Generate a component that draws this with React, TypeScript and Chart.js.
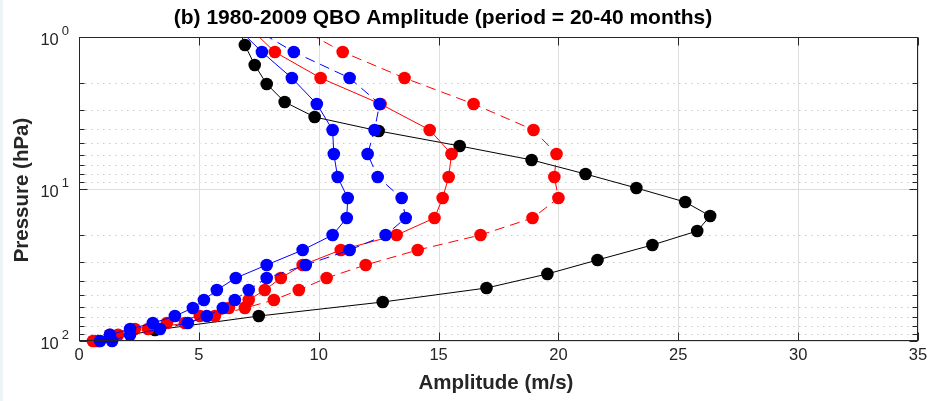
import React, { useEffect, useRef } from 'react';
import { Chart, registerables } from 'chart.js';

Chart.register(...registerables);

const TITLE = '(b) 1980-2009 QBO Amplitude (period = 20-40 months)';
const X_LABEL = 'Amplitude (m/s)';
const Y_LABEL = 'Pressure (hPa)';
const X_TICKS = [0, 5, 10, 15, 20, 25, 30, 35];
const Y_MAJOR = [1, 10, 100];
const Y_MAJOR_EXP = ['0', '1', '2'];
const Y_MINOR = [2, 3, 4, 5, 6, 7, 8, 9, 20, 30, 40, 50, 60, 70, 80, 90];

// pressure levels (hPa)
const blackLevels = [0.834, 1.129, 1.528, 2.038, 2.677, 3.36, 4.15, 5.21, 6.44, 7.97, 9.85, 12.19, 15.06, 18.89, 23.35, 29.3, 36.2, 44.8, 55.4, 68.5, 84.7, 100];
const blackAmp = [6.63, 6.92, 7.33, 7.83, 8.58, 9.83, 12.5, 15.88, 18.88, 21.13, 23.25, 25.29, 26.33, 25.79, 23.92, 21.63, 19.54, 17.0, 12.67, 7.5, 3.17, 0.8];

const levels = [0.847, 1.255, 1.861, 2.76, 4.09, 5.89, 8.34, 11.47, 15.52, 20.08, 25.2, 31.6, 38.5, 46.2, 53.7, 60.7, 68.5, 76.2, 83.4, 91, 100];
const blueSolid = [6.54, 7.63, 8.88, 9.92, 10.58, 10.63, 10.79, 11.21, 11.17, 10.58, 9.33, 7.83, 6.54, 5.75, 5.21, 4.75, 4.0, 3.08, 2.13, 1.29, 0.88];
const blueDashed = [7.13, 8.96, 11.29, 12.54, 12.33, 12.04, 12.46, 13.46, 13.63, 12.79, 11.29, 9.46, 7.83, 7.08, 6.5, 6.0, 5.33, 4.54, 3.38, 2.13, 1.38];
const redSolid = [7.04, 8.17, 10.08, 12.58, 14.63, 15.54, 15.42, 15.17, 14.83, 13.25, 10.92, 9.33, 8.42, 7.75, 7.08, 6.25, 5.04, 3.67, 2.33, 1.29, 0.58];
const redDashed = [9.04, 11.0, 13.58, 16.46, 18.96, 19.92, 19.83, 20.0, 18.92, 16.75, 14.13, 11.96, 10.33, 9.17, 8.13, 6.92, 5.67, 4.42, 2.88, 1.63, 0.67];

const FONT = '"Liberation Sans", Arial, sans-serif';

function pts(amp: number[], lev: number[]) {
  return amp.map((a, i) => ({ x: a, y: lev[i] }));
}

function series(label: string, amp: number[], lev: number[], color: string, dashed: boolean) {
  return {
    label,
    data: pts(amp, lev),
    showLine: true,
    borderColor: color,
    backgroundColor: color,
    borderWidth: 1,
    borderDash: dashed ? [10, 6] : [],
    pointRadius: 6.3,
    pointBorderWidth: 0,
    pointBackgroundColor: color,
    pointBorderColor: color,
    tension: 0,
    clip: { left: 10, top: 0, right: 10, bottom: 10 },
  };
}

const framePlugin = {
  id: 'frame',
  beforeDraw(chart: any) {
    const { ctx, width, height } = chart;
    ctx.save();
    ctx.fillStyle = '#ffffff';
    ctx.fillRect(0, 0, width, height);
    ctx.fillStyle = '#eef4f6';
    ctx.fillRect(0, 0, 3, height);
    ctx.restore();
  },
  beforeDatasetsDraw(chart: any) {
    const { ctx, chartArea: a, scales } = chart;
    const xs = scales.x, ys = scales.y;
    ctx.save();
    ctx.lineWidth = 1;
    ctx.strokeStyle = '#cacaca';
    ctx.setLineDash([1.5, 4.5]);
    Y_MINOR.forEach((v) => {
      const y = Math.round(ys.getPixelForValue(v)) + 0.5;
      ctx.beginPath();
      ctx.moveTo(a.left, y);
      ctx.lineTo(a.right, y);
      ctx.stroke();
    });
    ctx.setLineDash([]);
    ctx.strokeStyle = '#dedede';
    Y_MAJOR.forEach((v) => {
      const y = Math.round(ys.getPixelForValue(v)) + 0.5;
      ctx.beginPath();
      ctx.moveTo(a.left, y);
      ctx.lineTo(a.right, y);
      ctx.stroke();
    });
    X_TICKS.forEach((v) => {
      const x = Math.round(xs.getPixelForValue(v)) + 0.5;
      ctx.beginPath();
      ctx.moveTo(x, a.top);
      ctx.lineTo(x, a.bottom);
      ctx.stroke();
    });
    ctx.restore();
  },
  afterDatasetsDraw(chart: any) {
    const { ctx, chartArea: a, scales } = chart;
    const xs = scales.x, ys = scales.y;
    ctx.save();
    ctx.strokeStyle = '#262626';
    ctx.lineWidth = 1;
    const L = Math.round(a.left) + 0.5, R = Math.round(a.right) - 0.5;
    const T = Math.round(a.top) + 0.5, B = Math.round(a.bottom) - 0.5;
    ctx.strokeRect(L, T, R - L, B - T);
    ctx.beginPath();
    X_TICKS.forEach((v) => {
      const x = Math.round(xs.getPixelForValue(v)) + 0.5;
      ctx.moveTo(x, B); ctx.lineTo(x, B - 8);
      ctx.moveTo(x, T); ctx.lineTo(x, T + 8);
    });
    Y_MAJOR.forEach((v) => {
      const y = Math.round(ys.getPixelForValue(v)) + 0.5;
      ctx.moveTo(L, y); ctx.lineTo(L + 8, y);
      ctx.moveTo(R, y); ctx.lineTo(R - 8, y);
    });
    Y_MINOR.forEach((v) => {
      const y = Math.round(ys.getPixelForValue(v)) + 0.5;
      ctx.moveTo(L, y); ctx.lineTo(L + 5, y);
      ctx.moveTo(R, y); ctx.lineTo(R - 5, y);
    });
    ctx.stroke();

    ctx.fillStyle = '#262626';
    // x tick labels
    ctx.font = `16.5px ${FONT}`;
    ctx.textAlign = 'center';
    ctx.textBaseline = 'middle';
    X_TICKS.forEach((v) => {
      ctx.fillText(String(v), xs.getPixelForValue(v), a.bottom + 14);
    });
    // y tick labels 10^n
    Y_MAJOR.forEach((v, i) => {
      const y = ys.getPixelForValue(v);
      ctx.textAlign = 'right';
      ctx.font = `13px ${FONT}`;
      const expW = ctx.measureText(Y_MAJOR_EXP[i]).width;
      const xr = a.left - 10;
      ctx.fillText(Y_MAJOR_EXP[i], xr, y - 6);
      ctx.font = `16.5px ${FONT}`;
      ctx.fillText('10', xr - expW - 3, y + 3);
    });
    // axis titles
    ctx.fillStyle = '#262626';
    ctx.font = `bold 20.5px ${FONT}`;
    ctx.textAlign = 'center';
    ctx.fillText(X_LABEL, 496, 383);
    ctx.save();
    ctx.translate(22, 190);
    ctx.rotate(-Math.PI / 2);
    ctx.fillText(Y_LABEL, 0, 0);
    ctx.restore();
    // title
    ctx.fillStyle = '#000000';
    ctx.font = `bold 21px ${FONT}`;
    ctx.fillText(TITLE, 443, 18);
    ctx.restore();
  },
};

export default function App() {
  const ref = useRef<HTMLCanvasElement | null>(null);
  useEffect(() => {
    if (!ref.current) return;
    const chart = new Chart(ref.current, {
      type: 'scatter',
      data: {
        datasets: [
          series('Blue solid', blueSolid, levels, '#0000ff', false),
          series('Blue dashed', blueDashed, levels, '#0000ff', true),
          series('Red solid', redSolid, levels, '#ff0000', false),
          series('Red dashed', redDashed, levels, '#ff0000', true),
          series('Black', blackAmp, blackLevels, '#000000', false),
        ] as any,
      },
      options: {
        animation: false,
        responsive: false,
        maintainAspectRatio: false,
        devicePixelRatio: 1,
        layout: { padding: { left: 79, right: 12, top: 37, bottom: 60 } },
        plugins: { legend: { display: false }, tooltip: { enabled: false }, title: { display: false } },
        scales: {
          x: { type: 'linear', min: 0, max: 35, display: false },
          y: { type: 'logarithmic', min: 1, max: 100, reverse: true, display: false },
        },
      } as any,
      plugins: [framePlugin],
    });
    return () => chart.destroy();
  }, []);
  return (
    <div style={{ position: 'fixed', left: 0, top: 0, width: 930, height: 401, background: '#fff' }}>
      <canvas ref={ref} width={930} height={401} style={{ width: 930, height: 401, display: 'block' }} />
    </div>
  );
}
